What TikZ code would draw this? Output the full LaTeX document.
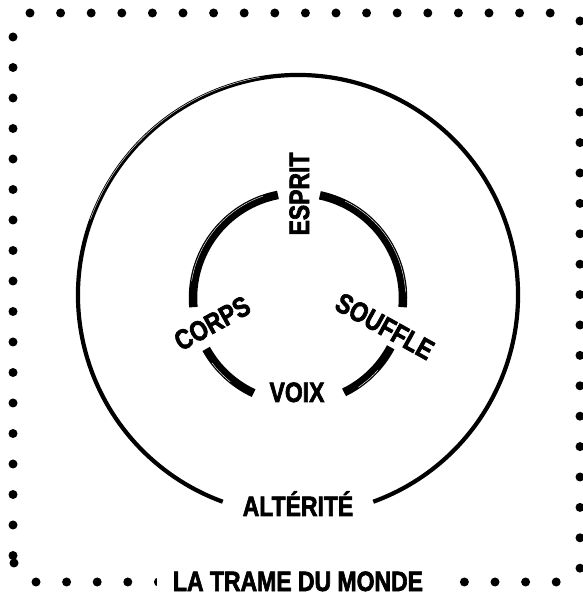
\documentclass[tikz,border=0pt]{standalone}
\usepackage{fontspec}
\setmainfont{Liberation Sans}[FakeStretch=0.82, BoldFeatures={FakeBold=2.2}]

\begin{document}
\begin{tikzpicture}[
  x=1pt, y=1pt,
  lbl/.style={font=\fontsize{28}{30}\selectfont\bfseries, text height=20pt,
              text depth=0pt, inner sep=0pt},
  ttl/.style={lbl, fill=white, inner xsep=16pt, inner ysep=1pt},
  bead/.style={fill=black},
  ring/.style={line width=4.2pt},
  brush/.style={line width=8.5pt},
  streak/.style={white, line width=0.4pt}
]
\useasboundingbox (0,0) rectangle (583,595);

% dotted frame
\foreach \i in {0,...,17} {
  \fill[bead] (30+30.6*\i,582) circle (4.5);
  \fill[bead] (36+30.6*\i,13) circle (4.5);
  \fill[bead] (13,558-30.5*\i) circle (4.5);
}
\foreach \i in {0,...,18}
  \fill[bead] (580,574-30.4*\i) circle (4.5);
\fill[bead] (14,32) circle (4.5);

% rings
\coordinate (o) at (298,300);
\coordinate (c) at (298,297);
\draw[ring] (o) ++(-70:220) arc[start angle=-70, end angle=250, radius=220];
\draw[streak] (o) ++(100:221) arc[start angle=100, end angle=160, radius=221];
\foreach \a/\b in {-5/78,101/185,209/245,296/332} {
  \draw[brush] (c) ++(\a:105) arc[start angle=\a, end angle=\b, radius=105];
  \draw[streak] (c) ++(\a+8:107.7) arc[start angle=\a+8, end angle=\b-14, radius=107.7];
}

% labels
\node[lbl, rotate=90]  (esp) at (299,401) {ESPRIT};
\node[lbl, rotate=29]  (crp) at (212,272) {CORPS};
\node[lbl, rotate=-29] (sfl) at (385,269) {SOUFFLE};
\node[lbl]             (vox) at (297,203) {VOIX};
\node[lbl]             (alt) at (298,89)  {ALTÉRITÉ};
\node[ttl]             (trm) at (298,14)  {LA TRAME DU MONDE};
\end{tikzpicture}
\end{document}
